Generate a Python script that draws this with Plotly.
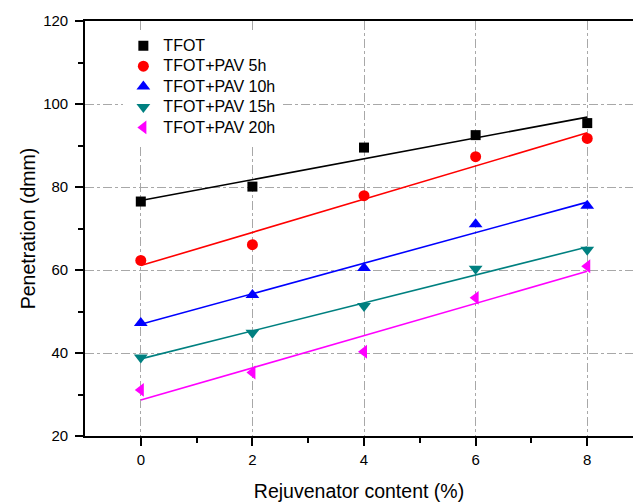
import numpy as np
import plotly.graph_objects as go

content = [0, 2, 4, 6, 8]
tfot = [76.5, 80.1, 89.5, 92.5, 95.4]
pav5 = [62.3, 66.1, 77.9, 87.3, 91.7]
pav10 = [47.2, 54.0, 60.5, 71.0, 75.5]
pav15 = [38.9, 44.9, 51.3, 60.3, 64.9]
pav20 = [31.1, 35.3, 40.3, 53.3, 60.9]

names = ["TFOT", "TFOT+PAV 5h", "TFOT+PAV 10h", "TFOT+PAV 15h", "TFOT+PAV 20h"]
series = [tfot, pav5, pav10, pav15, pav20]
colors = ["#000000", "#FF0000", "#0000FF", "#008080", "#FF00FF"]
symbols = ["square", "circle", "triangle-up", "triangle-down", "triangle-left"]
sizes = [10, 11, 12, 12, 12]

FONT = "Liberation Sans, Arial, sans-serif"

fig = go.Figure()
x = np.array(content, dtype=float)
for name, ys, c in zip(names, series, colors):
    k, b = np.polyfit(x, np.array(ys), 1)
    xf = np.array([x.min(), x.max()])
    fig.add_trace(go.Scatter(x=xf, y=k * xf + b, mode="lines",
                             line=dict(color=c, width=1.6), showlegend=False,
                             hoverinfo="skip"))
for name, ys, c, s, sz in zip(names, series, colors, symbols, sizes):
    fig.add_trace(go.Scatter(x=content, y=ys, mode="markers",
                             name=f"<span style='font-size:16px'>{name}</span>",
                             marker=dict(symbol=s, color=c, size=sz,
                                         line=dict(width=0))))

axis_common = dict(
    showline=True, linecolor="black", linewidth=1.6,
    ticks="outside", ticklen=8, tickwidth=1.6, tickcolor="black",
    showgrid=True, gridcolor="#a8a8a8", gridwidth=1, griddash="dashdot",
    zeroline=False, tickfont=dict(family=FONT, size=15, color="black"),
)
minor_common = dict(ticks="outside", ticklen=5, tickwidth=1.6,
                    tickcolor="black", showgrid=False)

fig.update_layout(
    width=633, height=502,
    margin=dict(l=85, r=0, t=21, b=66),
    paper_bgcolor="white", plot_bgcolor="white",
    font=dict(family=FONT, color="black"),
    showlegend=True,
    legend=dict(x=0.07, y=0.977, xanchor="left", yanchor="top",
                bgcolor="white", borderwidth=0,
                font=dict(family=FONT, size=13.4, color="black"),
                tracegroupgap=0, itemwidth=30),
    xaxis=dict(range=[-1, 8.82], tickmode="array", tickvals=[0, 2, 4, 6, 8],
               minor=dict(tickvals=[1, 3, 5, 7], **minor_common),
               mirror=True, ticklabelstandoff=1,
               title=dict(text="Rejuvenator content (%)",
                          font=dict(family=FONT, size=19.5), standoff=18),
               **axis_common),
    yaxis=dict(range=[20, 120], tickmode="array",
               tickvals=[20, 40, 60, 80, 100, 120],
               minor=dict(tickvals=[30, 50, 70, 90, 110], **minor_common),
               ticklabelstandoff=4,
               title=dict(text="Penetration (dmm)",
                          font=dict(family=FONT, size=19.5), standoff=2),
               **axis_common),
)

fig.write_html("out.html")
